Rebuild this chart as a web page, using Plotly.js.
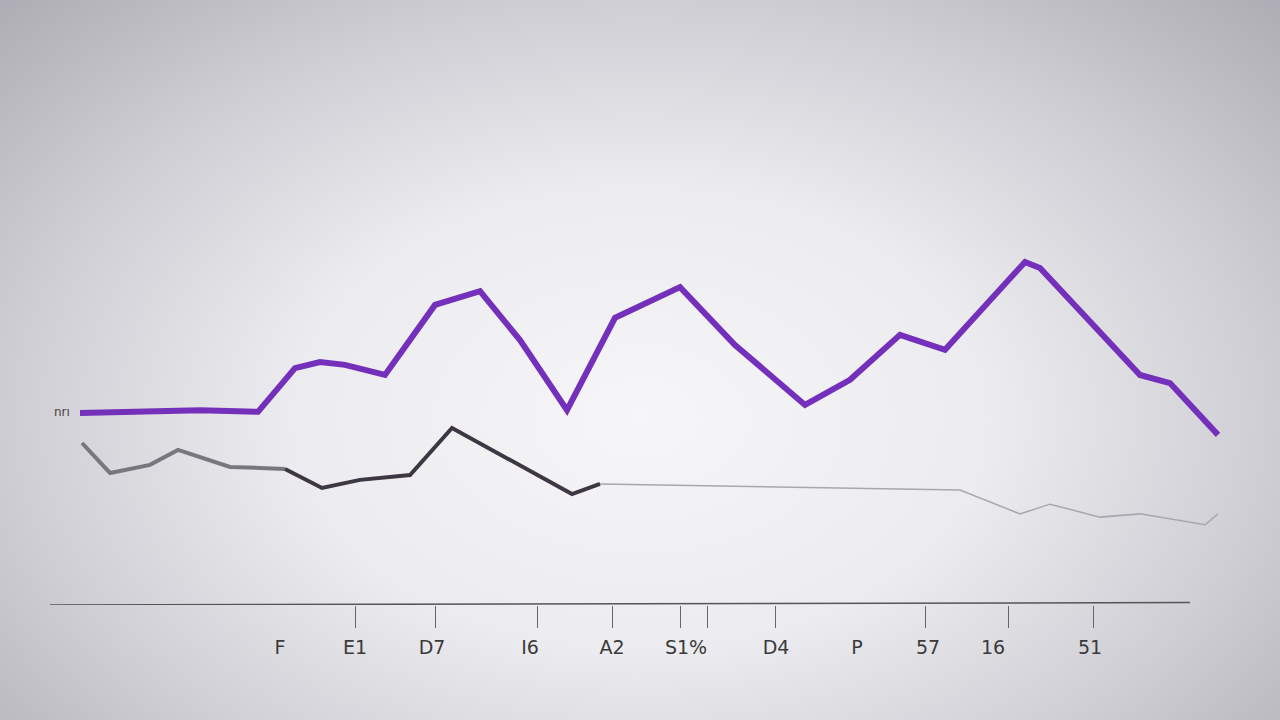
<!DOCTYPE html>
<html>
<head>
<meta charset="utf-8">
<script src="https://cdn.plot.ly/plotly-3.0.1.min.js"></script>
<style>
html,body{margin:0;padding:0;width:1280px;height:720px;overflow:hidden;}
body{background:radial-gradient(ellipse 72% 85% at 50% 58%, #f6f6f8 0%, #ecebef 38%, #cfced4 68%, #aba9b1 100%);}
#chart{width:1280px;height:720px;}
</style>
</head>
<body>
<div id="chart"></div>
<script>
// Purple series
const purpleX = [3.0, 15.0, 20.8, 24.5, 27.0, 29.5, 33.5, 38.5, 43.0, 47.0, 51.7, 56.5, 63.0, 68.5, 75.5, 80.0, 85.0, 89.5, 97.5, 99.0, 109.0, 112.0, 116.8];
const purpleY = [47.4, 48.1, 47.7, 58.5, 60.0, 59.3, 56.8, 74.1, 77.5, 65.4, 48.1, 70.9, 78.5, 64.2, 49.4, 55.6, 66.7, 63.0, 84.7, 83.2, 56.8, 54.8, 42.0];
// Gray series (dark part, then faint part)
const grayLeftX = [3.2, 6.0, 10.0, 12.8, 18.0, 23.5];
const grayLeftY = [40.0, 32.6, 34.6, 38.3, 34.1, 33.6];
const grayMidX = [23.5, 27.2, 31.0, 36.0, 40.2, 46.0, 52.2, 55.0];
const grayMidY = [33.6, 28.9, 30.9, 32.1, 43.7, 35.8, 27.4, 29.9];
const grayFaintX = [55.0, 91.0, 97.0, 100.0, 105.0, 109.0, 115.5, 116.8];
const grayFaintY = [29.9, 28.4, 22.5, 24.9, 21.7, 22.5, 19.8, 22.5];
// Axis ticks and labels
const tickPositions = [30.5, 38.5, 48.7, 56.2, 63.0, 65.7, 72.5, 87.5, 95.8, 104.3];
const labelPositions = [23.0, 30.5, 38.2, 48.0, 56.2, 63.6, 72.6, 80.7, 87.8, 94.3, 104.0];
const labelTexts = ["F", "E1", "D7", "I6", "A2", "S1%", "D4", "P", "57", "16", "51"];

const traces = [
  {x: grayLeftX, y: grayLeftY, mode: 'lines', line: {color: '#7a767f', width: 4}, hoverinfo: 'skip'},
  {x: grayMidX, y: grayMidY, mode: 'lines', line: {color: '#3d3744', width: 4}, hoverinfo: 'skip'},
  {x: grayFaintX, y: grayFaintY, mode: 'lines', line: {color: '#a9a7ad', width: 1.5}, hoverinfo: 'skip'},
  {x: purpleX, y: purpleY, mode: 'lines', line: {color: '#7430bb', width: 6}, hoverinfo: 'skip'},
  {x: labelPositions, y: labelPositions.map(() => null), xaxis: 'x2', mode: 'lines', hoverinfo: 'skip'}
];

const layout = {
  width: 1280, height: 720,
  margin: {l: 50, r: 30, t: 200, b: 115},
  paper_bgcolor: 'rgba(0,0,0,0)',
  plot_bgcolor: 'rgba(0,0,0,0)',
  showlegend: false,
  font: {family: 'DejaVu Sans', color: '#333'},
  xaxis: {
    range: [0, 120], showgrid: false, zeroline: false, showline: false,
    tickmode: 'array', tickvals: tickPositions, ticktext: tickPositions.map(() => ''),
    ticks: 'outside', ticklen: 22, tickcolor: '#666', tickwidth: 1
  },
  xaxis2: {
    range: [0, 120], overlaying: 'x', side: 'bottom', anchor: 'y',
    showgrid: false, zeroline: false, showline: false,
    tickmode: 'array', tickvals: labelPositions, ticktext: labelTexts,
    ticks: '', ticklabelstandoff: 29,
    tickfont: {size: 19, color: '#3a3a3a', family: 'DejaVu Sans'}
  },
  yaxis: {range: [0, 100], visible: false},
  shapes: [
    {type: 'line', xref: 'x', yref: 'y', x0: 0, x1: 114, y0: 0, y1: 0.6, line: {color: '#555', width: 1.5}}
  ],
  annotations: [
    {x: 1.2, y: 47.6, xref: 'x', yref: 'y', text: 'nrı', showarrow: false, font: {size: 12, color: '#444'}}
  ]
};

Plotly.newPlot('chart', traces, layout, {staticPlot: true, displayModeBar: false});
</script>
</body>
</html>
